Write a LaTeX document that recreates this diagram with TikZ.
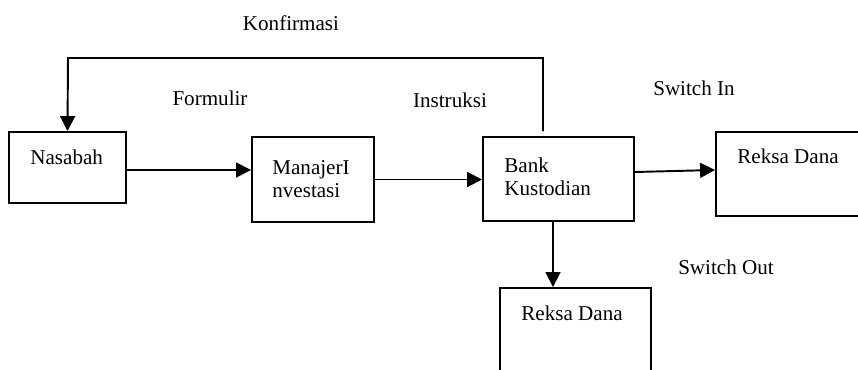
\documentclass[tikz,border=0pt]{standalone}
\usepackage{fontspec}
\setmainfont{Liberation Serif}
\usepackage{tikz}
\usetikzlibrary{arrows.meta, positioning, calc}

\begin{document}
\begin{tikzpicture}[
    font=\fontsize{12}{13}\selectfont,
    box/.style={draw, line width=1.1pt, inner sep=0pt},
    txt/.style={inner sep=0pt, anchor=west, align=left},
    arr/.style={line width=1.1pt, -{Triangle[length=8.5pt, width=8.5pt]}}
]
% Page size
\useasboundingbox (0,0) rectangle (17.16,7.38);
\clip (0,0) rectangle (17.16,7.38);

% Boxes
\node[box, minimum width=2.34cm, minimum height=1.42cm] (nasabah) at (1.35,4.03) {};
\node[box, minimum width=2.44cm, minimum height=1.70cm] (manajer) at (6.26,3.79) {};
\node[box, minimum width=3.02cm, minimum height=1.68cm] (bank) at (11.17,3.80) {};
\node[box, minimum width=3.08cm, minimum height=1.68cm] (reksaA) at (15.86,3.90) {};
\node[box, minimum width=3.02cm, minimum height=1.84cm] (reksaB) at (11.51,0.70) {};

% Box texts
\node[txt] (tNasabah) at (0.60,4.24) {Nasabah};
\node[txt] (tManajer) at (5.44,3.80) {ManajerI\\nvestasi};
\node[txt] (tBank) at (10.08,3.84) {Bank\\Kustodian};
\node[txt] (tReksaA) at (14.74,4.26) {Reksa Dana};
\node[txt] (tReksaB) at (10.42,1.12) {Reksa Dana};

% Flow labels
\node (lKonf) at (5.82,6.92) {Konfirmasi};
\node (lForm) at (4.20,5.42) {Formulir};
\node (lInst) at (9.00,5.38) {Instruksi};
\node (lIn) at (13.88,5.62) {Switch In};
\node (lOut) at (14.52,2.04) {Switch Out};

% Connectors
\coordinate (konf) at (1.36,6.22);
\draw[arr] ([yshift=-0.05cm]nasabah.east) -- ([yshift=-0.05cm]nasabah.east -| manajer.west);
\draw[arr] (manajer.east) -- (manajer.east -| bank.west);
\draw[arr] ([yshift=0.14cm]bank.east) -- ([yshift=0.08cm]reksaA.west);
\draw[arr] ([xshift=-0.11cm]bank.south) -- ([xshift=-0.11cm]bank.south |- reksaB.north);
\draw[arr] ([xshift=-0.31cm, yshift=0.1cm]bank.north) |- (konf) -- (nasabah.north);

\end{tikzpicture}
\end{document}
